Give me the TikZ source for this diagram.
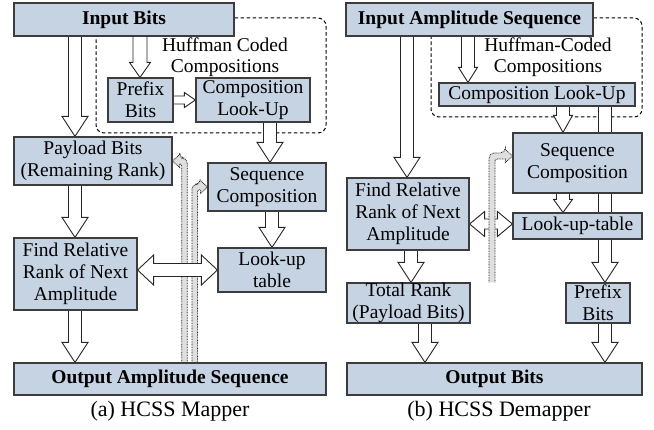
\documentclass[tikz,border=0pt]{standalone}
\usepackage{fontspec}
\setmainfont{Liberation Serif}
\usetikzlibrary{calc}
\pgfdeclarelayer{background}
\pgfsetlayers{background,main}
\definecolor{boxblue}{RGB}{198,211,227}
\definecolor{boxline}{RGB}{60,60,60}
\tikzset{
  blk/.style={draw=boxline, line width=1.2pt, fill=boxblue, align=center, inner sep=0pt,
    font=\fontsize{19.5}{22}\selectfont},
  blkb/.style={blk, font=\fontsize{19.5}{22}\selectfont\bfseries},
  blockarrow/.style={draw=black!85, line width=0.9pt, fill=white, line join=miter},
  grayarrow/.style={draw=black!85, line width=0.8pt, dash pattern=on 0.8pt off 0.8pt, fill=gray!25},
  group/.style={draw=black, line width=1pt, dash pattern=on 3.5pt off 2.5pt, rounded corners=8pt},
  label/.style={align=center, inner sep=0pt, font=\fontsize{19.5}{21}\selectfont},
  caption/.style={inner sep=0pt, font=\fontsize{22}{24}\selectfont}
}
% shaft half width, head half width, head length
\newcommand{\blksize}[3]{\def\sw{#1pt}\def\hw{#2pt}\def\hl{#3pt}}
\blksize{6.5}{13}{20}
% block arrow down at x=#1
\newcommand{\vblock}[3]{%
  \draw[blockarrow] let \p1=(#2), \p2=(#3) in
    (#1pt-\sw,\y1) -- (#1pt-\sw,\y2+\hl) -- (#1pt-\hw,\y2+\hl) -- (#1pt,\y2)
    -- (#1pt+\hw,\y2+\hl) -- (#1pt+\sw,\y2+\hl) -- (#1pt+\sw,\y1);}
% block arrow right at y=#1
\newcommand{\hblock}[3]{%
  \draw[blockarrow] let \p1=(#2), \p2=(#3) in
    (\x1,-#1pt+\sw) -- (\x2-\hl,-#1pt+\sw) -- (\x2-\hl,-#1pt+\hw) -- (\x2,-#1pt)
    -- (\x2-\hl,-#1pt-\hw) -- (\x2-\hl,-#1pt-\sw) -- (\x1,-#1pt-\sw);}
% double block arrow at y=#1
\newcommand{\dblock}[3]{%
  \draw[blockarrow] let \p1=(#2), \p2=(#3) in
    (\x1,-#1pt) -- (\x1+\hl,-#1pt+\hw) -- (\x1+\hl,-#1pt+\sw) -- (\x2-\hl,-#1pt+\sw)
    -- (\x2-\hl,-#1pt+\hw) -- (\x2,-#1pt) -- (\x2-\hl,-#1pt-\hw) -- (\x2-\hl,-#1pt-\sw)
    -- (\x1+\hl,-#1pt-\sw) -- (\x1+\hl,-#1pt-\hw) -- cycle;}

\begin{document}
\begin{tikzpicture}[x=1pt, y=-1pt]
  \useasboundingbox (0,0) rectangle (654,430);

  % (a) mapper
  \node[blkb, minimum width=220pt, minimum height=33pt] (inb) at (124,19.5) {Input Bits};
  \node[blk, minimum width=65pt, minimum height=44pt] (pre) at (140.5,100) {Prefix\\Bits};
  \node[blk, minimum width=114pt, minimum height=44pt] (clu) at (253,100) {Composition\\Look-Up};
  \node[blk, minimum width=158pt, minimum height=48pt] (pay) at (93,161) {Payload Bits\\(Remaining Rank)};
  \node[blk, minimum width=118pt, minimum height=48pt] (seq) at (267,187) {Sequence\\Composition};
  \node[blk, minimum width=123pt, minimum height=72pt] (fnd) at (75.5,274) {Find Relative\\Rank of Next\\Amplitude};
  \node[blk, minimum width=108pt, minimum height=44pt] (lut) at (272,270) {Look-up\\table};
  \node[blkb, minimum width=312pt, minimum height=32pt] (out) at (170,379) {Output Amplitude Sequence};
  \node[label] (huf) at (225,57) {Huffman Coded\\Compositions};
  \node[caption] (capa) at (170,411) {(a) HCSS Mapper};

  % (b) demapper
  \node[blkb, minimum width=247pt, minimum height=33pt] (inr) at (469.5,19.5) {Input Amplitude Sequence};
  \node[blk, minimum width=196pt, minimum height=23pt] (clr) at (537,94.5) {Composition Look-Up};
  \node[blk, minimum width=129pt, minimum height=60pt] (sqr) at (577.5,163) {Sequence\\Composition};
  \node[blk, minimum width=122pt, minimum height=72pt] (fdr) at (408,214) {Find Relative\\Rank of Next\\Amplitude};
  \node[blk, minimum width=129pt, minimum height=26pt] (ltr) at (577.5,226) {Look-up-table};
  \node[blk, minimum width=123pt, minimum height=40pt] (tot) at (408.5,303) {Total Rank\\(Payload Bits)};
  \node[blk, minimum width=64pt, minimum height=40pt] (pfr) at (598,303) {Prefix\\Bits};
  \node[blkb, minimum width=295pt, minimum height=32pt] (obr) at (494.5,379) {Output Bits};
  \node[label] (hufr) at (548,57) {Huffman-Coded\\Compositions};
  \node[caption] (capb) at (499,411) {(b) HCSS Demapper};

  \begin{pgfonlayer}{background}
    \draw[group] (inb.east |- 0,18) -- (326,18) -- (326,133) -- (96,133) -- (96,36);
    \draw[group] (inr.east |- 0,18) -- (642,18) -- (642,117) -- (431,117) -- (431,36);

    % long arrow behind the boxes
    \vblock{605}{clr.south}{pfr.north}

    % dotted feedback arrows (a)
    \draw[grayarrow] let \p1=(out.north), \p2=(pay.east) in
      (187.3pt,\y1) [rounded corners=5pt] -- (187.3pt,\y2+2.8pt) -- (\x2+7pt,\y2+2.8pt) [sharp corners]
      -- (\x2+7pt,\y2+6.5pt) -- (\x2,\y2) -- (\x2+7pt,\y2-6.5pt) -- (\x2+7pt,\y2-2.8pt) [rounded corners=2pt]
      -- (181.7pt,\y2-2.8pt) [sharp corners] -- (181.7pt,\y1);
    \draw[grayarrow] let \p1=(out.north), \p2=(seq.west) in
      (191.9pt,\y1) [rounded corners=5pt] -- (191.9pt,\y2+2.8pt) -- (\x2-7pt,\y2+2.8pt) [sharp corners]
      -- (\x2-7pt,\y2+6.5pt) -- (\x2,\y2) -- (\x2-7pt,\y2-6.5pt) -- (\x2-7pt,\y2-2.8pt) [rounded corners=2pt]
      -- (197.5pt,\y2-2.8pt) [sharp corners] -- (197.5pt,\y1);

    % block arrows (a)
    \vblock{75}{inb.south}{pay.north}
    \vblock{75}{pay.south}{fnd.north}
    \vblock{75}{fnd.south}{out.north}
    \vblock{270}{clu.south}{seq.north}
    \vblock{272}{seq.south}{lut.north}
    {\blksize{7}{10.5}{15}\vblock{140}{inb.south}{pre.north}}
    {\blksize{4}{7.5}{11}\hblock{100}{pre.east}{clu.west}}
    {\blksize{6.5}{15}{16}\dblock{270}{fnd.east}{lut.west}}

    % block arrows (b)
    \vblock{407}{inr.south}{fdr.north}
    \vblock{411}{fdr.south}{tot.north}
    \vblock{425}{tot.south}{obr.north}
    \vblock{605}{pfr.south}{obr.north}
    {\blksize{6.5}{9.5}{15}\vblock{468}{inr.south}{clr.north}}
    {\blksize{6.5}{9.5}{17}\vblock{563}{clr.south}{sqr.north}}
    {\blksize{6.5}{9.5}{13}\vblock{563}{sqr.south}{ltr.north}}
    {\blksize{5}{12.5}{15}\dblock{224}{fdr.east}{ltr.west}}

    % dotted feedback arrow (b)
    \draw[grayarrow] let \p1=(tot.north), \p2=([yshift=7pt]sqr.west) in
      (489pt,\y1) [rounded corners=5pt] -- (489pt,\y2+3pt) -- (\x2-7pt,\y2+3pt) [sharp corners]
      -- (\x2-7pt,\y2+6.5pt) -- (\x2,\y2) -- (\x2-7pt,\y2-6.5pt) -- (\x2-7pt,\y2-3pt) [rounded corners=2pt]
      -- (495pt,\y2-3pt) [sharp corners] -- (495pt,\y1);
  \end{pgfonlayer}
\end{tikzpicture}
\end{document}
